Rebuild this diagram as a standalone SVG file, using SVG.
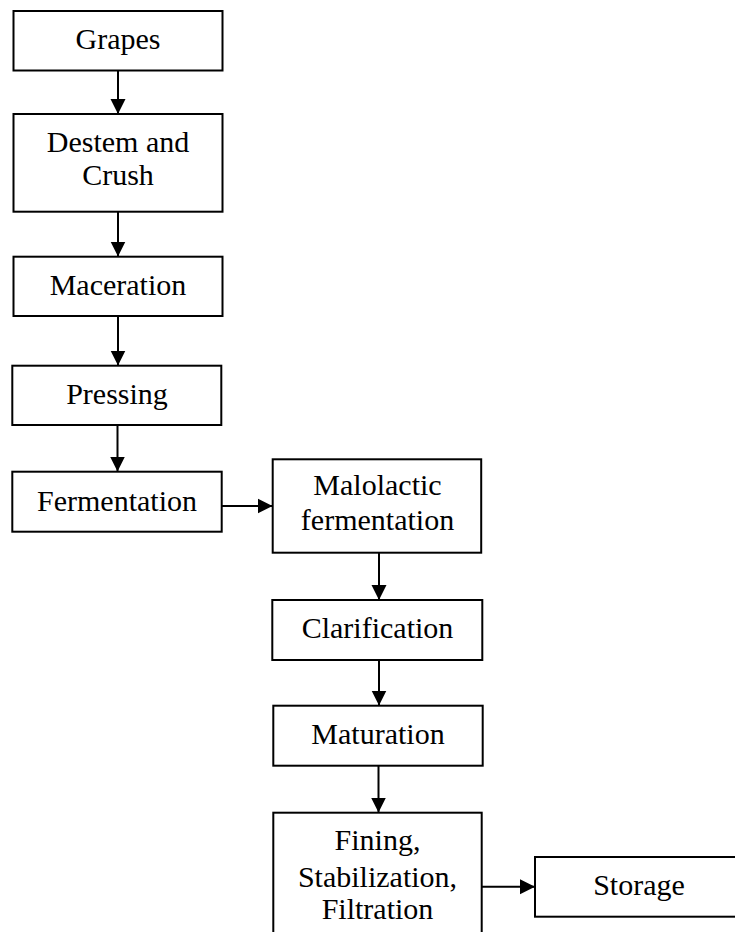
<svg xmlns="http://www.w3.org/2000/svg" width="735" height="932" viewBox="0 0 735 932">
<style>
.box{fill:#fff;stroke:#000;stroke-width:2}
.t{font-family:"Liberation Serif","Times New Roman",serif;font-size:30px;fill:#000;text-anchor:middle}
.c{stroke:#000;stroke-width:2;fill:none;marker-end:url(#ah)}
</style>
<defs>
<marker id="ah" markerUnits="userSpaceOnUse" markerWidth="16" markerHeight="16" viewBox="0 0 16 16" refX="15" refY="8" orient="auto">
<path d="M0,0.5 L15,8 L0,15.5 Z" fill="#000"/>
</marker>
</defs>
<rect width="735" height="932" fill="#fff"/>
<g id="connectors">
<line class="c" x1="118" y1="71" x2="118" y2="114"/>
<line class="c" x1="118" y1="212" x2="118" y2="256.5"/>
<line class="c" x1="118" y1="316" x2="118" y2="365.5"/>
<line class="c" x1="117.5" y1="425" x2="117.5" y2="471.5"/>
<line class="c" x1="222" y1="506" x2="272.5" y2="506"/>
<line class="c" x1="379" y1="553" x2="379" y2="600"/>
<line class="c" x1="379" y1="660" x2="379" y2="705.5"/>
<line class="c" x1="378.5" y1="766" x2="378.5" y2="812.5"/>
<line class="c" x1="482" y1="886.7" x2="535" y2="886.7"/>
</g>
<g id="grapes"><rect class="box" x="13.5" y="11" width="209" height="59.5"/><text class="t" x="118" y="48.5">Grapes</text></g>
<g id="destem"><rect class="box" x="13.5" y="114" width="209" height="97.7"/><text class="t" x="118" y="151.7">Destem and</text><text class="t" x="118" y="185">Crush</text></g>
<g id="maceration"><rect class="box" x="13.5" y="256.7" width="209" height="59.3"/><text class="t" x="118" y="295">Maceration</text></g>
<g id="pressing"><rect class="box" x="12.3" y="365.7" width="209" height="59.3"/><text class="t" x="117" y="404">Pressing</text></g>
<g id="fermentation"><rect class="box" x="12.3" y="471.7" width="209.4" height="60"/><text class="t" x="117" y="510.7">Fermentation</text></g>
<g id="malolactic"><rect class="box" x="272.7" y="459.3" width="208.5" height="93.4"/><text class="t" x="377.5" y="495">Malolactic</text><text class="t" x="377.5" y="530">fermentation</text></g>
<g id="clarification"><rect class="box" x="272.3" y="600" width="210" height="60"/><text class="t" x="377.5" y="638.3">Clarification</text></g>
<g id="maturation"><rect class="box" x="273.3" y="705.7" width="209.4" height="60"/><text class="t" x="378" y="744.3">Maturation</text></g>
<g id="fining"><rect class="box" x="273.3" y="812.7" width="208.4" height="130"/><text class="t" x="377.5" y="850">Fining,</text><text class="t" x="377.5" y="886.7">Stabilization,</text><text class="t" x="377.5" y="919.3">Filtration</text></g>
<g id="storage"><rect class="box" x="535" y="857" width="210" height="59.7"/><text class="t" x="639" y="895">Storage</text></g>
</svg>
